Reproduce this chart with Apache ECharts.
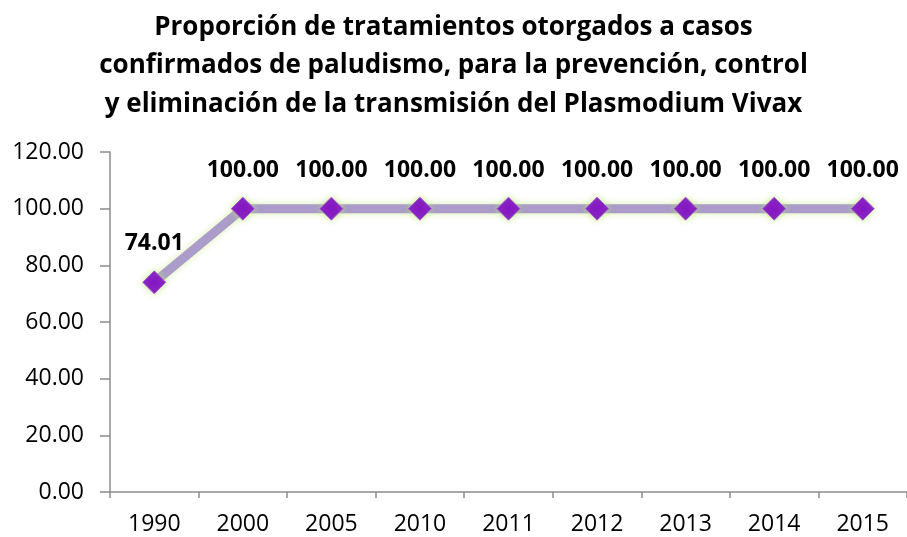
<!DOCTYPE html>
<html><head><meta charset="utf-8">
<script src="https://cdn.jsdelivr.net/npm/echarts@6/dist/echarts.min.js"></script>
<style>html,body{margin:0;padding:0;background:#fff}#c{width:907px;height:537px}</style>
</head><body><div id="c"></div>
<script>
var titleText = 'Proporción de tratamientos otorgados a casos\nconfirmados de paludismo, para la prevención, control\ny eliminación de la transmisión del Plasmodium Vivax';
var categories = ['1990','2000','2005','2010','2011','2012','2013','2014','2015'];
var values = [74.01,100,100,100,100,100,100,100,100];
var yMin = 0, yMax = 120, yStep = 20;
var FONT = 'Open Sans';
var chart = echarts.init(document.getElementById('c'), null, {renderer:'canvas'});
chart.setOption({
  animation:false,
  title:{text:titleText,left:'center',top:3,textStyle:{fontFamily:FONT,fontWeight:'bold',fontSize:26,lineHeight:38.5,color:'#000'}},
  grid:{left:110,right:0,top:152,bottom:45,containLabel:false},
  xAxis:{type:'category',data:categories,boundaryGap:true,
    axisLine:{lineStyle:{color:'#8c8c8c',width:1.5}},
    axisTick:{show:true,length:6,lineStyle:{color:'#8c8c8c',width:1.5}},
    axisLabel:{fontFamily:FONT,fontSize:23,color:'#000',margin:21}},
  yAxis:{type:'value',min:yMin,max:yMax,interval:yStep,
    axisLine:{show:true,lineStyle:{color:'#8c8c8c',width:1.5}},
    axisTick:{show:true,length:10,lineStyle:{color:'#8c8c8c',width:1.5}},
    splitLine:{show:false},
    axisLabel:{fontFamily:FONT,fontSize:23,color:'#000',margin:26,formatter:function(v){return v.toFixed(2);}}},
  series:[{type:'line',data:values,symbol:'diamond',symbolSize:23,
    lineStyle:{color:'#ab9cc9',width:9,shadowColor:'rgba(190,230,120,0.6)',shadowBlur:7},
    itemStyle:{color:'#8413c6',borderColor:'#a060d0',borderWidth:1,shadowColor:'rgba(190,230,120,0.8)',shadowBlur:7},
    label:{show:true,position:'top',distance:15,fontFamily:FONT,fontWeight:'bold',fontSize:23,color:'#000',
      formatter:function(p){return p.value.toFixed(2);}}}]
});
</script></body></html>
